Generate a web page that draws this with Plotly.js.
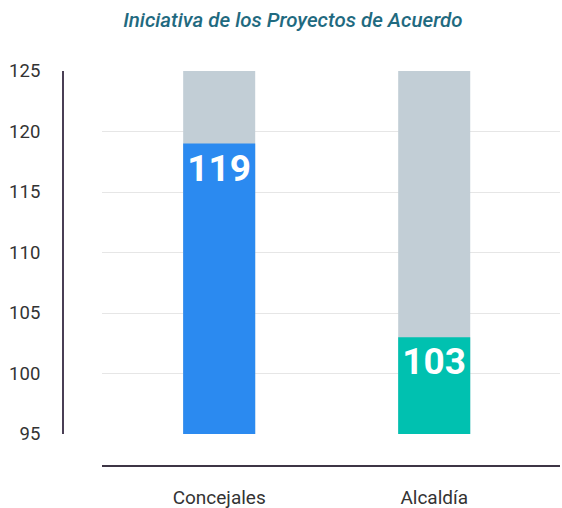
<!DOCTYPE html>
<html><head><meta charset="utf-8">
<script src="https://cdn.plot.ly/plotly-3.0.1.min.js"></script>
<style>html,body{margin:0;padding:0;background:#fff}#chart{width:562px;height:508px}</style>
</head><body><div id="chart"></div>
<script>
const categories = ['Concejales', 'Alcaldía'];
const values = [119, 103];
const scaleMax = [125, 125];
const barColors = ['#2b8af0', '#00c1b0'];
const tickVals = [95, 100, 105, 110, 115, 120, 125];

const W = 562, H = 508;
const mL = 63, mR = 2, mT = 71, mB = 42;
const plotW = W - mL - mR, plotH = H - mT - mB;

const traces = [
  {type:'bar', x:categories, y:scaleMax, marker:{color:'#c2ced6'}, width:0.335, hoverinfo:'skip', showlegend:false},
  {type:'bar', x:categories, y:values, marker:{color:barColors}, width:0.335,
   text:values.map(String), textposition:'inside', insidetextanchor:'end', constraintext:'none',
   textfont:{family:'Roboto', size:37, color:'#ffffff', weight:700}, showlegend:false}
];

const layout = {
  width:W, height:H,
  margin:{l:mL, r:mR, t:mT, b:mB, pad:0},
  paper_bgcolor:'#fff', plot_bgcolor:'#fff',
  barmode:'overlay',
  title:{text:'<i>Iniciativa de los Proyectos de Acuerdo</i>', x:0.521, xanchor:'center', y:0.96, yanchor:'middle',
    font:{family:'Roboto', size:20.5, color:'#1f6a80', weight:500}},
  xaxis:{domain:[(102-mL)/plotW, 1], range:[-0.545, 1.585], anchor:'free', position:0,
    showline:true, linecolor:'#3d3545', linewidth:2, showgrid:false, zeroline:false,
    ticks:'outside', ticklen:14, tickcolor:'rgba(0,0,0,0)',
    tickfont:{family:'Roboto', size:19, color:'#333'}},
  yaxis:{domain:[(466-434)/plotH, 1], range:[95,125], anchor:'free', position:0,
    tickvals:tickVals, ticktext:tickVals.map(String),
    showline:true, linecolor:'#4a3f55', linewidth:2, showgrid:true, gridcolor:'#e6e6e6', gridwidth:1, zeroline:false,
    ticks:'outside', ticklen:18, tickcolor:'rgba(0,0,0,0)',
    tickfont:{family:'Roboto', size:18.5, color:'#333'}}
};
Plotly.newPlot('chart', traces, layout, {displayModeBar:false, staticPlot:true});
</script></body></html>
